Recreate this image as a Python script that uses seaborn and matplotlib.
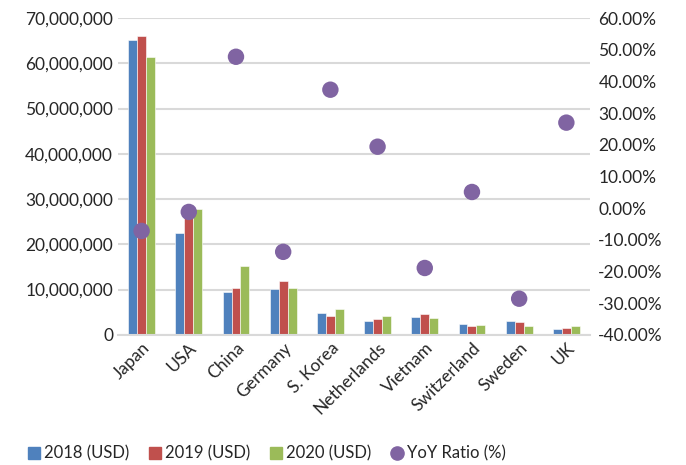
import pandas as pd
import matplotlib.pyplot as plt
import matplotlib.ticker as mticker
from matplotlib.lines import Line2D
import seaborn as sns

# -------------------------
# Data
# -------------------------

countries = ["Japan", "USA", "China", "Germany", "S. Korea", "Netherlands",
             "Vietnam", "Switzerland", "Sweden", "UK"]

usd_2018 = [65.2e6, 22.4e6, 9.4e6, 10.1e6, 4.8e6, 3.0e6, 4.0e6, 2.3e6, 3.1e6, 1.3e6]
usd_2019 = [66.0e6, 28.1e6, 10.3e6, 11.8e6, 4.1e6, 3.4e6, 4.6e6, 2.05e6, 2.9e6, 1.6e6]
usd_2020 = [61.3e6, 27.8e6, 15.1e6, 10.3e6, 5.7e6, 4.1e6, 3.75e6, 2.2e6, 2.0e6, 2.0e6]

yoy_ratio = [-7.2, -1.2, 47.8, -13.8, 37.4, 19.4, -18.9, 5.1, -28.6, 27.0]

series_names = ["2018 (USD)", "2019 (USD)", "2020 (USD)"]
bar_colors = ["#4F81BD", "#C0504D", "#9BBB59"]
dot_color = "#8064A2"

# -------------------------
# Long-form table for seaborn
# -------------------------

rows = []
for name, vals in zip(series_names, [usd_2018, usd_2019, usd_2020]):
    for c, v in zip(countries, vals):
        rows.append({"country": c, "series": name, "value": v})
df = pd.DataFrame(rows)

df_yoy = pd.DataFrame({"country": countries, "yoy": yoy_ratio})

sns.set_theme(style="white")
plt.rcParams["font.family"] = ["Lato", "DejaVu Sans"]

FS = 12.5

fig = plt.figure(figsize=(6.86, 4.65), dpi=100)
ax = fig.add_axes([0.172, 0.28, 0.688, 0.681])

sns.barplot(
    data=df, x="country", y="value", hue="series",
    palette=bar_colors, saturation=1, width=0.57, gap=0, ax=ax,
    edgecolor="white", linewidth=0.4, legend=False,
)

ax.set_ylim(0, 70e6)
ax.set_yticks(range(0, 70000001, 10000000))
ax.yaxis.set_major_formatter(mticker.FuncFormatter(lambda v, p: f"{int(v):,}"))
ax.grid(axis="y", color="#d9d9d9", linewidth=1.5)
ax.set_axisbelow(True)
for s in ["top", "right", "left"]:
    ax.spines[s].set_visible(False)
ax.spines["bottom"].set_color("#d9d9d9")
ax.spines["bottom"].set_linewidth(1.5)
ax.set_xlabel("")
ax.set_ylabel("")
ax.tick_params(axis="both", length=0, labelsize=FS, colors="#262626")
plt.setp(ax.get_xticklabels(), rotation=45, ha="right", rotation_mode="anchor")

# -------------------------
# YoY ratio on secondary axis
# -------------------------

ax2 = ax.twinx()
sns.scatterplot(data=df_yoy, x="country", y="yoy", color=dot_color,
                s=140, edgecolor="none", ax=ax2, zorder=5)
ax2.set_ylim(-40, 60)
ax2.set_yticks(range(-40, 61, 10))
ax2.yaxis.set_major_formatter(mticker.FuncFormatter(lambda v, p: f"{v:.2f}%"))
for s in ax2.spines.values():
    s.set_visible(False)
ax2.set_ylabel("")
ax2.set_xlabel("")
ax2.tick_params(axis="y", length=0, labelsize=FS, colors="#262626", pad=6)
ax.set_xlim(-0.5, len(countries) - 0.5)

# -------------------------
# Legend
# -------------------------

handles = [Line2D([], [], marker="s", linestyle="", color=c, markersize=8)
           for c in bar_colors]
handles.append(Line2D([], [], marker="o", linestyle="", color=dot_color, markersize=9.5))
fig.legend(handles, series_names + ["YoY Ratio (%)"], loc="center",
           bbox_to_anchor=(0.387, 0.025), ncol=4, frameon=False,
           fontsize=12, handletextpad=0.1, columnspacing=1.05,
           handlelength=1.0, labelcolor="#262626")

fig.savefig("out.png", dpi=100)
